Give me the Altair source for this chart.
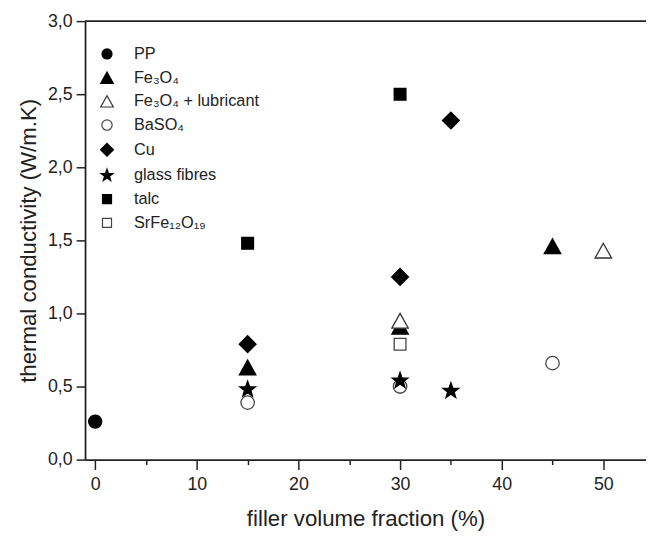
import math
import altair as alt
import pandas as pd

series = ["PP", "Fe₃O₄", "Fe₃O₄ + lubricant", "BaSO₄", "Cu", "glass fibres", "talc", "SrFe₁₂O₁₉"]

pp_x = [0]
pp_y = [0.26]
fe_x = [15, 30, 45]
fe_y = [0.63, 0.91, 1.46]
fel_x = [30, 50]
fel_y = [0.95, 1.43]
ba_x = [15, 30, 45]
ba_y = [0.39, 0.50, 0.66]
cu_x = [15, 30, 35]
cu_y = [0.79, 1.25, 2.32]
gf_x = [15, 30, 35]
gf_y = [0.48, 0.54, 0.47]
talc_x = [15, 30]
talc_y = [1.48, 2.50]
sr_x = [30]
sr_y = [0.79]

xs = [pp_x, fe_x, fel_x, ba_x, cu_x, gf_x, talc_x, sr_x]
ys = [pp_y, fe_y, fel_y, ba_y, cu_y, gf_y, talc_y, sr_y]

rows = []
for name, xv, yv in zip(series, xs, ys):
    for a, b in zip(xv, yv):
        rows.append({"series": name, "x": a, "y": b})
df = pd.DataFrame(rows)

# marker shapes (unit box -1..1)
def circle(r):
    return f"M{r},0A{r},{r} 0 1 1 {-r},0A{r},{r} 0 1 1 {r},0Z"

tri = "M0,-0.88L0.98,0.88L-0.98,0.88Z"
diamond = "M0,-1L1,0L0,1L-1,0Z"
square = "M-0.7,-0.7L0.7,-0.7L0.7,0.7L-0.7,0.7Z"
pts = []
R, r = 0.98, 0.4
for i in range(10):
    ang = -math.pi / 2 + i * math.pi / 5
    rad = R if i % 2 == 0 else r
    pts.append(f"{rad*math.cos(ang):.3f},{rad*math.sin(ang):.3f}")
star = "M" + "L".join(pts) + "Z"

shapes = [circle(0.78), tri, tri, circle(0.8), diamond, star, square, square]
fills = ["black", "black", "white", "white", "black", "black", "black", "white"]
strokes = ["black", "black", "#333333", "#444444", "black", "black", "black", "#444444"]

font = "Liberation Sans"

points = alt.Chart(df).mark_point(filled=True, opacity=1, size=289, strokeWidth=1.3).encode(
    x=alt.X("x:Q", scale=alt.Scale(domain=[-1, 54.2], nice=False, zero=False),
            axis=alt.Axis(values=list(range(0, 55, 5)),
                          labelExpr="datum.value % 10 === 0 ? datum.label : ''",
                          tickSize={"condition": {"test": "datum.value % 10 === 0", "value": 10}, "value": 5},
                          title="filler volume fraction (%)", titlePadding=15,
                          labelPadding=6, format="d")),
    y=alt.Y("y:Q", scale=alt.Scale(domain=[0, 3], nice=False),
            axis=alt.Axis(values=[i * 0.25 for i in range(13)],
                          labelExpr="datum.value % 0.5 === 0 ? replace(format(datum.value, '.1f'), '.', ',') : ''",
                          tickSize={"condition": {"test": "datum.value % 0.5 === 0", "value": 9}, "value": 5},
                          title="thermal conductivity (W/m.K)", titlePadding=7,
                          labelPadding=4)),
    shape=alt.Shape("series:N", scale=alt.Scale(domain=series, range=shapes),
                    legend=alt.Legend(title=None, orient="none", legendX=14, legendY=25,
                                      symbolSize=170, labelFontSize=16.5, rowPadding=7,
                                      labelOffset=19, symbolStrokeWidth=1.2, labelFont=font,
                                      labelColor="#222222", padding=0)),
    fill=alt.Fill("series:N", scale=alt.Scale(domain=series, range=fills)),
    stroke=alt.Stroke("series:N", scale=alt.Scale(domain=series, range=strokes)),
)

top = alt.Chart(pd.DataFrame({"y": [3.0]})).mark_rule(color="#222222", strokeWidth=2).encode(
    y=alt.Y("y:Q")
)

chart = alt.layer(points, top).properties(
    width=568, height=444,
    autosize=alt.AutoSizeParams(type="none"),
    padding={"left": 78, "top": 10, "right": 0, "bottom": 70},
).configure_view(stroke=None).configure_axis(
    domainColor="#222222", domainWidth=1.8, tickColor="#222222", tickWidth=1.5,
    grid=False, labelFont=font, titleFont=font, labelFontSize=18, titleFontSize=22.5,
    labelColor="#222222", titleColor="#222222", titleFontWeight="normal",
)

chart.save("out.html", embed_options={"renderer": "svg", "actions": False})
